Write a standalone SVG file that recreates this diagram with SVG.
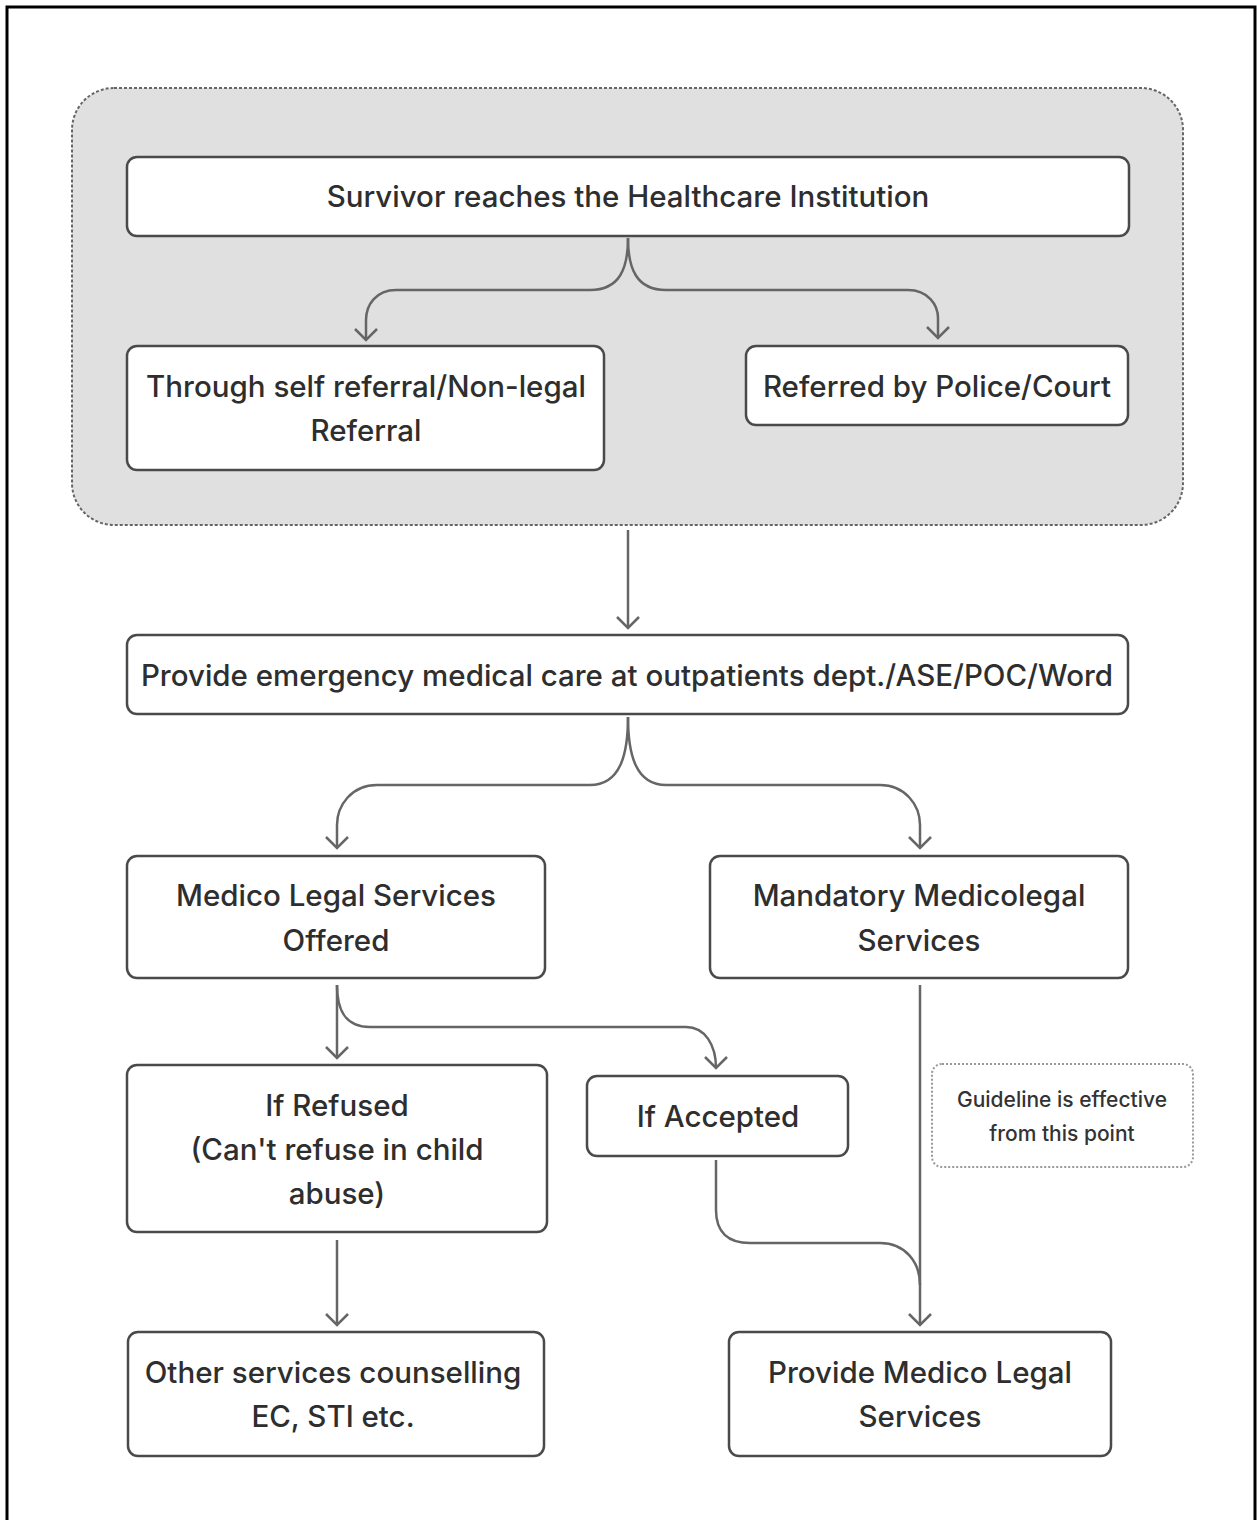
<svg xmlns="http://www.w3.org/2000/svg" width="1257" height="1520" viewBox="0 0 1257 1520">
<style>
.bg{fill:#ffffff}
.frame{fill:none;stroke:#000;stroke-width:3}
.group{fill:#e0e0e0;stroke:#666;stroke-width:2;stroke-dasharray:3 2}
.node{fill:#ffffff;stroke:#4a4a4a;stroke-width:2.5}
.note{fill:#ffffff;stroke:#999;stroke-width:2;stroke-dasharray:2 2}
.t{font-family:Inter,"Liberation Sans",sans-serif;font-size:29.5px;font-weight:500;fill:#2e2e2e;text-anchor:middle}
.s{font-family:Inter,"Liberation Sans",sans-serif;font-size:21px;font-weight:500;fill:#333;text-anchor:middle}
.c{fill:none;stroke:#666;stroke-width:2.5}
</style>
<defs>
<marker id="arr" viewBox="0 0 24 24" refX="21" refY="12" markerWidth="24" markerHeight="24" markerUnits="userSpaceOnUse" orient="auto">
<path d="M10 1 L21 12 L10 23" fill="none" stroke="#666" stroke-width="2.5"/>
</marker>
</defs>
<rect class="bg" x="0" y="0" width="1257" height="1520"/>
<rect class="frame" x="7" y="7" width="1248" height="1530"/>
<g id="group-intake">
<rect class="group" x="72" y="88" width="1111" height="437" rx="42"/>
</g>
<g id="connectors">
<path class="c" d="M628 238 C628 268 620 290 590 290 L396 290 C376 290 366 305 366 320 L366 340" marker-end="url(#arr)"/>
<path class="c" d="M628 238 C628 268 636 290 666 290 L908 290 C928 290 938 305 938 318 L938 338" marker-end="url(#arr)"/>
<path class="c" d="M628 530 L628 628" marker-end="url(#arr)"/>
<path class="c" d="M628 717 C628 755 620 785 590 785 L377 785 C352 785 337 805 337 825 L337 848" marker-end="url(#arr)"/>
<path class="c" d="M628 717 C628 755 636 785 666 785 L880 785 C905 785 920 805 920 825 L920 848" marker-end="url(#arr)"/>
<path class="c" d="M337 985 L337 1058" marker-end="url(#arr)"/>
<path class="c" d="M337 985 C337 1010 345 1027 370 1027 L686 1027 C705 1027 716 1045 716 1068" marker-end="url(#arr)"/>
<path class="c" d="M920 985 L920 1325" marker-end="url(#arr)"/>
<path class="c" d="M716 1160 L716 1210 C716 1232 728 1243 750 1243 L880 1243 C905 1243 920 1262 920 1285"/>
<path class="c" d="M337 1240 L337 1325" marker-end="url(#arr)"/>
</g>
<g id="n-survivor">
<rect class="node" x="127" y="157" width="1002" height="79" rx="10"/>
<text class="t" x="628" y="207">Survivor reaches the Healthcare Institution</text>
</g>
<g id="n-self">
<rect class="node" x="127" y="346" width="477" height="124" rx="10"/>
<text class="t" x="366" y="397">Through self referral/Non-legal</text>
<text class="t" x="366" y="441">Referral</text>
</g>
<g id="n-police">
<rect class="node" x="746" y="346" width="382" height="79" rx="10"/>
<text class="t" x="937" y="397">Referred by Police/Court</text>
</g>
<g id="n-emergency">
<rect class="node" x="127" y="635" width="1001" height="79" rx="10"/>
<text class="t" x="627" y="686">Provide emergency medical care at outpatients dept./ASE/POC/Word</text>
</g>
<g id="n-offered">
<rect class="node" x="127" y="856" width="418" height="122" rx="10"/>
<text class="t" x="336" y="906">Medico Legal Services</text>
<text class="t" x="336" y="951">Offered</text>
</g>
<g id="n-mandatory">
<rect class="node" x="710" y="856" width="418" height="122" rx="10"/>
<text class="t" x="919" y="906">Mandatory Medicolegal</text>
<text class="t" x="919" y="951">Services</text>
</g>
<g id="n-refused">
<rect class="node" x="127" y="1065" width="420" height="167" rx="10"/>
<text class="t" x="337" y="1116">If Refused</text>
<text class="t" x="337" y="1160">(Can't refuse in child</text>
<text class="t" x="337" y="1204">abuse)</text>
</g>
<g id="n-accepted">
<rect class="node" x="587" y="1076" width="261" height="80" rx="10"/>
<text class="t" x="718" y="1127">If Accepted</text>
</g>
<g id="n-note">
<rect class="note" x="932" y="1064" width="261" height="103" rx="10"/>
<text class="s" x="1062" y="1107">Guideline is effective</text>
<text class="s" x="1062" y="1141">from this point</text>
</g>
<g id="n-other">
<rect class="node" x="128" y="1332" width="416" height="124" rx="10"/>
<text class="t" x="333" y="1383">Other services counselling</text>
<text class="t" x="333" y="1427">EC, STI etc.</text>
</g>
<g id="n-provide">
<rect class="node" x="729" y="1332" width="382" height="124" rx="10"/>
<text class="t" x="920" y="1383">Provide Medico Legal</text>
<text class="t" x="920" y="1427">Services</text>
</g>
</svg>
